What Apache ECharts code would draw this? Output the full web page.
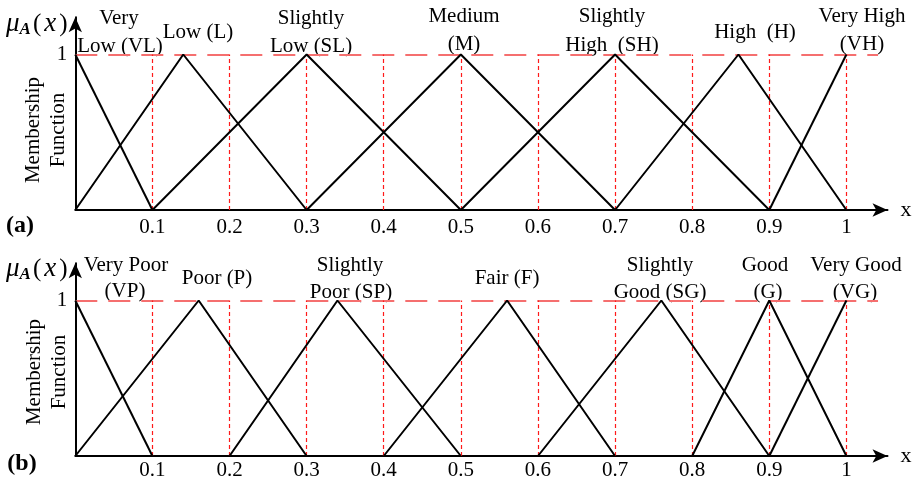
<!DOCTYPE html>
<html><head><meta charset="utf-8">
<script src="https://cdn.jsdelivr.net/npm/echarts@6/dist/echarts.min.js"></script>
<style>html,body{margin:0;padding:0;background:#fff}#c{width:920px;height:484px}</style>
</head><body><div id="c"></div>
<script>
// ---- data ----
const xTicks = [0.1, 0.2, 0.3, 0.4, 0.5, 0.6, 0.7, 0.8, 0.9, 1.0];
const yTicks = [1];
// panel (a)
const aVL = [[0, 1], [0.1, 0]];
const aL  = [[0, 0], [0.14, 1], [0.3, 0]];
const aSL = [[0.1, 0], [0.3, 1], [0.5, 0]];
const aM  = [[0.3, 0], [0.5, 1], [0.7, 0]];
const aSH = [[0.5, 0], [0.7, 1], [0.9, 0]];
const aH  = [[0.7, 0], [0.86, 1], [1.0, 0]];
const aVH = [[0.9, 0], [1.0, 1]];
// panel (b)
const bVP = [[0, 1], [0.1, 0]];
const bP  = [[0, 0], [0.16, 1], [0.3, 0]];
const bSP = [[0.2, 0], [0.34, 1], [0.5, 0]];
const bF  = [[0.4, 0], [0.56, 1], [0.7, 0]];
const bSG = [[0.6, 0], [0.76, 1], [0.9, 0]];
const bG  = [[0.8, 0], [0.9, 1], [1.0, 0]];
const bVG = [[0.9, 0], [1.0, 1]];
const refLevel = 1;
const refLineEnd = 1.041;

// ---- term label text (layout kept separate) ----
const labelsA = [
  ['Very', 119, 18], ['Low (VL)', 120, 46], ['Low (L)', 198, 32],
  ['Slightly', 311, 18], ['Low (SL)', 311, 46], ['Medium', 464, 16], ['(M)', 464, 44],
  ['Slightly', 612, 16], ['High  (SH)', 612, 45], ['High  (H)', 755, 32],
  ['Very High', 862, 16], ['(VH)', 862, 44]
];
const labelsB = [
  ['Very Poor', 126, 265], ['(VP)', 125, 291], ['Poor (P)', 217, 278],
  ['Slightly', 350, 265], ['Poor (SP)', 351, 292], ['Fair (F)', 507, 278],
  ['Slightly', 660, 265], ['Good (SG)', 660, 292], ['Good', 765, 265], ['(G)', 768, 292],
  ['Very Good', 856, 265], ['(VG)', 855, 292]
];

const FONT = 'Liberation Serif';
const UNIT_Y = 155.5;
const Y_MAX = 1.24;
const X_MAX = 1.0533;
const LEFT = 75.3;
const WIDTH = 771.1 * X_MAX;
const HEIGHT = UNIT_Y * Y_MAX;

function xAxisCfg(idx, margin) {
  return {
    type: 'value', gridIndex: idx, min: 0, max: X_MAX, interval: 0.1,
    axisLine: { show: true, onZero: false, lineStyle: { color: '#000', width: 2 }, symbol: ['none', 'arrow'], symbolSize: [10, 15] },
    axisTick: { show: false }, splitLine: { show: false },
    axisLabel: {
      margin: margin, color: '#000', fontFamily: FONT, fontSize: 21, showMinLabel: true, showMaxLabel: true, hideOverlap: false,
      formatter: v => {
        const hit = xTicks.find(t => Math.abs(t - v) < 1e-6);
        return hit === undefined ? '' : (hit === 1 ? '1' : hit.toFixed(1));
      }
    },
    name: 'x', nameLocation: 'end', nameGap: 13,
    nameTextStyle: { color: '#000', fontFamily: FONT, fontSize: 22, verticalAlign: 'middle', padding: [0, 0, 4, 0] }
  };
}
function yAxisCfg(idx) {
  return {
    type: 'value', gridIndex: idx, min: 0, max: Y_MAX, interval: 1,
    axisLine: { show: true, onZero: false, lineStyle: { color: '#000', width: 2 }, symbol: ['none', 'arrow'], symbolSize: [10, 15] },
    axisTick: { show: false }, splitLine: { show: false },
    axisLabel: {
      margin: 8, color: '#000', fontFamily: FONT, fontSize: 21, showMaxLabel: false,
      formatter: v => (yTicks.some(t => Math.abs(t - v) < 1e-6) ? String(v) : '')
    }
  };
}

function mfSeries(data, idx) {
  return {
    type: 'line', xAxisIndex: idx, yAxisIndex: idx, data: data, symbol: 'none', silent: true,
    lineStyle: { color: '#000', width: 2 }, z: 5, animation: false
  };
}
const vertStyle = { color: '#ff1a1a', width: 1.2, type: [4, 3], opacity: 1 };
const horizStyle = { color: '#f56f6f', width: 2, type: [22, 11], opacity: 1 };
function refSeries(idx) {
  const verts = xTicks.map(t => [{ coord: [t, 0], lineStyle: vertStyle }, { coord: [t, refLevel] }]);
  const horiz = [{ coord: [0, refLevel], lineStyle: horizStyle }, { coord: [refLineEnd, refLevel] }];
  return {
    type: 'line', xAxisIndex: idx, yAxisIndex: idx, data: [[0, 0]], symbol: 'none', silent: true,
    lineStyle: { width: 0, opacity: 0 }, itemStyle: { color: '#ff1a1a' }, z: 2, animation: false,
    markLine: {
      silent: true, symbol: ['none', 'none'], label: { show: false }, animation: false,
      lineStyle: vertStyle,
      emphasis: { disabled: true },
      data: [horiz].concat(verts)
    }
  };
}

const graphics = [];
function addText(t, x, y, opts) {
  graphics.push(Object.assign({ type: 'text', x: x, y: y, silent: true, style: Object.assign({
    text: t, fill: '#000', font: '21px "' + FONT + '"', align: 'center', verticalAlign: 'middle'
  }, (opts && opts.style) || {}) }, (opts && opts.el) || {}));
}
labelsA.concat(labelsB).forEach(l => addText(l[0], l[1], l[2]));
// panel tags
addText('(a)', 20, 226, { style: { font: 'bold 24px "' + FONT + '"' } });
addText('(b)', 22, 464, { style: { font: 'bold 24px "' + FONT + '"' } });
// vertical axis titles
addText('Membership\nFunction', 46, 130, { style: { lineHeight: 25 }, el: { rotation: Math.PI / 2 } });
addText('Membership\nFunction', 47, 372, { style: { lineHeight: 25 }, el: { rotation: Math.PI / 2 } });
// mu_A(x)
function muLabel(y) {
  graphics.push({
    type: 'text', x: 6, y: y, silent: true,
    style: {
      text: '{m|μ}{s|A}{p|(}{i|x}{p|)}', align: 'left', verticalAlign: 'middle',
      rich: {
        m: { fontFamily: FONT, fontStyle: 'italic', fontSize: 27, lineHeight: 28, fill: '#000' },
        s: { fontFamily: FONT, fontStyle: 'italic', fontWeight: 'bold', fontSize: 17, lineHeight: 16, verticalAlign: 'bottom', fill: '#000', padding: [0, 1, 0, 0] },
        p: { fontFamily: FONT, fontSize: 25, lineHeight: 28, fill: '#000', padding: [0, 1] },
        i: { fontFamily: FONT, fontStyle: 'italic', fontSize: 27, lineHeight: 28, fill: '#000', padding: [0, 2] }
      }
    }
  });
}
muLabel(24);
muLabel(269);

const chart = echarts.init(document.getElementById('c'), null, { renderer: 'canvas' });
chart.setOption({
  animation: false,
  backgroundColor: '#fff',
  grid: [
    { left: LEFT, top: 210 - HEIGHT, width: WIDTH, height: HEIGHT, containLabel: false, outerBoundsMode: 'none' },
    { left: LEFT, top: 456 - HEIGHT, width: WIDTH, height: HEIGHT, containLabel: false, outerBoundsMode: 'none' }
  ],
  xAxis: [xAxisCfg(0, 7), xAxisCfg(1, 4)],
  yAxis: [yAxisCfg(0), yAxisCfg(1)],
  series: [
    refSeries(0), refSeries(1),
    mfSeries(aVL, 0), mfSeries(aL, 0), mfSeries(aSL, 0), mfSeries(aM, 0), mfSeries(aSH, 0), mfSeries(aH, 0), mfSeries(aVH, 0),
    mfSeries(bVP, 1), mfSeries(bP, 1), mfSeries(bSP, 1), mfSeries(bF, 1), mfSeries(bSG, 1), mfSeries(bG, 1), mfSeries(bVG, 1)
  ],
  graphic: graphics
});
</script></body></html>
